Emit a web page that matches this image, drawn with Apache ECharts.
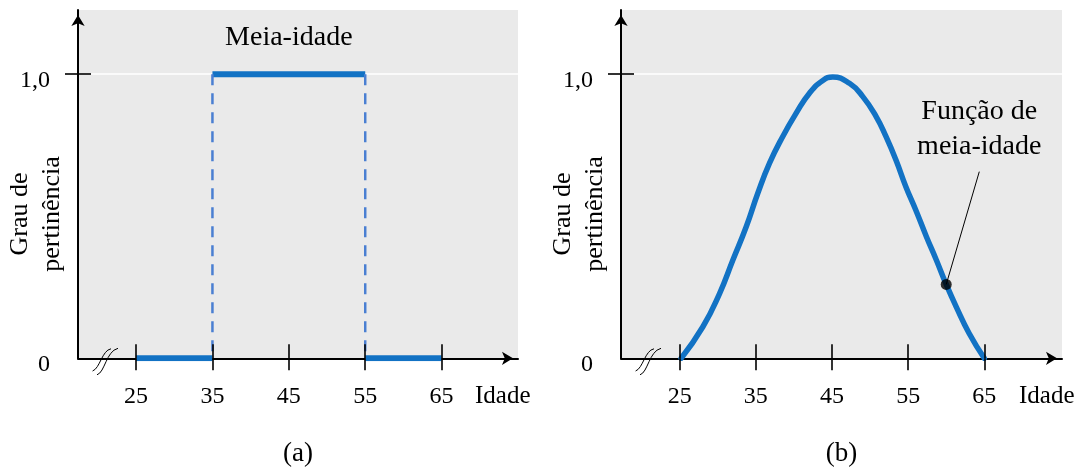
<!DOCTYPE html>
<html>
<head>
<meta charset="utf-8">
<script src="https://cdn.jsdelivr.net/npm/echarts@6/dist/echarts.min.js"></script>
<style>
  html, body { margin: 0; padding: 0; background: #fff; }
  #chart { width: 1080px; height: 468px; }
</style>
</head>
<body>
<div id="chart"></div>
<script>
// Grau de pertinência para "meia-idade": conjunto clássico (a) e fuzzy (b).
const tickAges = [25, 35, 45, 55, 65];
const yTickValues = [0, 1];
const yTickLabels = ['0', '1,0'];

// (a) conjunto clássico
const crispLowLeft = [[25, 0], [35, 0]];
const crispHigh = [[35, 1], [55, 1]];
const crispLowRight = [[55, 0], [65, 0]];
const crispEdges = [35, 55];

// (b) curva de pertinência
const fuzzyAges = [25.2, 28.05, 30.24, 31.99, 33.74, 35.26, 36.8, 38.54, 40.3, 42.04, 43.8, 45.1,
  47.3, 49.05, 50.8, 52.1, 53.4, 54.7, 56.0, 57.4, 58.7, 60, 61.3, 63.0, 65];
const fuzzyGrau = [0, 0.111, 0.228, 0.346, 0.463, 0.581, 0.687, 0.781, 0.863, 0.933, 0.978, 0.99,
  0.968, 0.921, 0.851, 0.78, 0.698, 0.604, 0.522, 0.428, 0.346, 0.26, 0.182, 0.088, 0];
const markedPoint = [60, 0.26];
const annotTip = [64.34, 0.657];

const FONT = '"Liberation Serif", "Times New Roman", serif';
const BLUE = '#1272c4';
const DASH_BLUE = '#4a7fd2';
const GRAY = '#eaeaea';
const Y_MAX = 1.226;
const xRanges = [[17.4, 75], [17.3, 75.2]];

const chart = echarts.init(document.getElementById('chart'), null, { renderer: 'canvas' });

const tickLine = { color: '#000', width: 1.6 };
const text = (size) => ({ fontFamily: FONT, fontSize: size, color: '#000' });

function xAxes(g) {
  const base = {
    type: 'value', gridIndex: g, min: xRanges[g][0], max: xRanges[g][1],
    position: 'bottom', splitLine: { show: false }
  };
  return [
    {
      ...base, z: 0,
      axisLine: {
        show: true, onZero: false, lineStyle: { color: '#000', width: 2 },
        symbol: ['none', 'arrow'], symbolSize: [10, 11], symbolOffset: [0, -5]
      },
      axisTick: { show: false },
      axisLabel: { customValues: tickAges, margin: 26, ...text(24) },
      name: 'Idade', nameLocation: 'end', nameGap: -43,
      nameTextStyle: { ...text(25), align: 'left', verticalAlign: 'top', padding: [26, 0, 0, 0] }
    },
    {
      ...base, z: 3, axisLine: { show: false }, axisLabel: { show: false },
      axisTick: { show: true, customValues: tickAges, length: 12, inside: false, lineStyle: tickLine }
    },
    {
      ...base, z: 3, axisLine: { show: false }, axisLabel: { show: false },
      axisTick: { show: true, customValues: tickAges, length: 14, inside: true, lineStyle: tickLine }
    }
  ];
}

function yAxes(g) {
  const base = { type: 'value', gridIndex: g, min: 0, max: Y_MAX, position: 'left' };
  return [
    {
      ...base, z: 0,
      axisLine: {
        show: true, onZero: false, lineStyle: { color: '#000', width: 2 },
        symbol: ['none', 'arrow'], symbolSize: [10, 11], symbolOffset: [0, -5]
      },
      axisTick: { show: true, customValues: [1], length: 13, lineStyle: tickLine },
      axisLabel: {
        customValues: yTickValues, margin: 28, verticalAlign: 'top', lineHeight: 12,
        formatter: (v) => yTickLabels[yTickValues.indexOf(v)], ...text(24)
      },
      splitLine: { show: true, lineStyle: { color: '#fff', width: 1.5 } }
    },
    {
      ...base, z: 1, axisLine: { show: false }, axisLabel: { show: false }, splitLine: { show: false },
      axisTick: { show: true, customValues: [1], length: 13, inside: true, lineStyle: tickLine }
    }
  ];
}

function segment(data, xi, yi, style) {
  return {
    type: 'line', data, xAxisIndex: xi, yAxisIndex: yi, symbol: 'none', z: 2,
    lineStyle: style, silent: true
  };
}

const series = [
  segment(crispLowLeft, 0, 0, { color: BLUE, width: 6 }),
  segment(crispHigh, 0, 0, { color: BLUE, width: 6 }),
  segment(crispLowRight, 0, 0, { color: BLUE, width: 6 }),
  ...crispEdges.map((e) =>
    segment([[e, 1], [e, 0]], 0, 0, { color: DASH_BLUE, width: 2.5, type: [11, 8] })),
  {
    ...segment(fuzzyAges.map((a, i) => [a, fuzzyGrau[i]]), 3, 2, { color: BLUE, width: 5.5, cap: 'round', join: 'round' }),
    smooth: 0.5
  },
  {
    type: 'scatter', data: [markedPoint], xAxisIndex: 3, yAxisIndex: 2, z: 4,
    symbolSize: 11, itemStyle: { color: '#000' }, silent: true,
    markLine: {
      silent: true, symbol: ['none', 'none'], animation: false,
      lineStyle: { color: '#000', width: 1, type: 'solid' }, label: { show: false },
      data: [[{ coord: markedPoint }, { coord: annotTip }]]
    }
  }
];

const gridBox = { top: 10, height: 348.3, show: true, backgroundColor: GRAY, borderWidth: 0, outerBoundsMode: 'none' };

chart.setOption({
  animation: false,
  grid: [
    { ...gridBox, left: 78, width: 440 },
    { ...gridBox, left: 621, width: 441 }
  ],
  xAxis: [...xAxes(0), ...xAxes(1)],
  yAxis: [...yAxes(0), ...yAxes(1)],
  series
});

// texts and axis-break marks, placed from the axes
const px = (xi, yi, p) => chart.convertToPixel({ xAxisIndex: xi, yAxisIndex: yi }, p);
const graphic = [];
function label(x, y, str, size, extra) {
  graphic.push({
    type: 'text', x, y, silent: true, ...extra,
    style: { text: str, fontFamily: FONT, fontSize: size, fill: '#000', align: 'center', verticalAlign: 'middle', lineHeight: size + 6 }
  });
}
[[0, 0], [3, 2]].forEach(([xi, yi], g) => {
  const o = px(xi, yi, [xRanges[g][0], 0]);
  const end = px(xi, yi, [xRanges[g][1], Y_MAX]);
  label(o[0] - 42, 214, 'Grau de\npertinência', 26, { rotation: Math.PI / 2 });
  label((o[0] + end[0]) / 2, 454, g === 0 ? '(a)' : '(b)', 27);
  [[14.6, 12.7, 22, 10, 24, -8, 33, -9.5], [19, 16.5, 27, 14, 28, -7, 40, -10]].forEach((c) => {
    graphic.push({
      type: 'bezierCurve', silent: true, z: 10,
      shape: { x1: o[0] + c[0], y1: o[1] + c[1], cpx1: o[0] + c[2], cpy1: o[1] + c[3], cpx2: o[0] + c[4], cpy2: o[1] + c[5], x2: o[0] + c[6], y2: o[1] + c[7] },
      style: { stroke: '#000', lineWidth: 1, fill: null }
    });
  });
});
const t = px(0, 0, [45, 1.128]);
label(t[0], t[1], 'Meia-idade', 28);
const f = px(3, 2, [64.34, 0.807]);
graphic.push({
  type: 'text', x: f[0], y: f[1], silent: true,
  style: { text: 'Função de\nmeia-idade', fontFamily: FONT, fontSize: 28, fill: '#000', align: 'center', verticalAlign: 'middle', lineHeight: 35 }
});
chart.setOption({ graphic });
</script>
</body>
</html>
